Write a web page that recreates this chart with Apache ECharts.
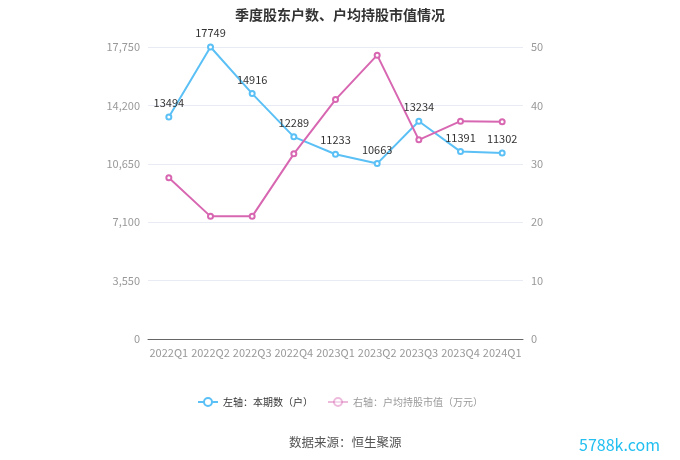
<!DOCTYPE html>
<html><head><meta charset="utf-8">
<script src="https://cdn.jsdelivr.net/npm/echarts@6/dist/echarts.min.js"></script>
<style>html,body{margin:0;padding:0;background:#fff}#c{width:680px;height:460px}</style>
</head><body><div id="c"></div>
<script>
const categories = ['2022Q1','2022Q2','2022Q3','2022Q4','2023Q1','2023Q2','2023Q3','2023Q4','2024Q1'];
const holders = [13494,17749,14916,12289,11233,10663,13234,11391,11302];
const avgValue = [27.6,21.0,21.0,31.7,41.0,48.6,34.1,37.3,37.2];
const leftTicks = {min:0,max:17750,interval:3550};
const rightTicks = {min:0,max:50,interval:10};
const font = 'Microsoft YaHei, "Noto Sans CJK SC", sans-serif';
const chart = echarts.init(document.getElementById('c'));
chart.setOption({
  animation:false,
  title:{text:'季度股东户数、户均持股市值情况',left:'center',top:3,textStyle:{fontSize:14,fontWeight:'bold',color:'#333',fontFamily:font}},
  grid:{left:148,right:157,top:47,bottom:121},
  legend:{bottom:48,left:'center',itemWidth:20,itemHeight:10,itemGap:14,textStyle:{fontSize:10,fontFamily:font,color:'#333'},
    data:[{name:'左轴：本期数（户）'},{name:'右轴：户均持股市值（万元）',itemStyle:{opacity:0.45},lineStyle:{opacity:0.45},textStyle:{color:'#999'}}]},
  xAxis:{type:'category',data:categories,axisLine:{lineStyle:{color:'#666'}},axisTick:{lineStyle:{color:'#666'}},
    axisLabel:{color:'#999',fontSize:11,fontFamily:font,margin:8,interval:0}},
  yAxis:[
    {type:'value',min:leftTicks.min,max:leftTicks.max,interval:leftTicks.interval,axisLine:{show:false},axisTick:{show:false},
     axisLabel:{color:'#999',fontSize:11,fontFamily:font,formatter:v=>v.toLocaleString('en-US')},splitLine:{lineStyle:{color:'#e8eaf4'}}},
    {type:'value',min:rightTicks.min,max:rightTicks.max,interval:rightTicks.interval,axisLine:{show:false},axisTick:{show:false},
     axisLabel:{color:'#999',fontSize:11,fontFamily:font},splitLine:{show:false}}
  ],
  series:[
    {name:'左轴：本期数（户）',type:'line',data:holders,yAxisIndex:0,symbol:'emptyCircle',symbolSize:5,
     itemStyle:{color:'#5bc0f5'},lineStyle:{width:2,color:'#5bc0f5'},
     label:{show:true,position:'top',color:'#333',fontSize:11,fontFamily:font}},
    {name:'右轴：户均持股市值（万元）',type:'line',data:avgValue,yAxisIndex:1,symbol:'emptyCircle',symbolSize:5,
     itemStyle:{color:'#d867b2'},lineStyle:{width:2,color:'#d867b2'}}
  ],
  graphic:[
    {type:'text',left:289,top:436,style:{text:'数据来源：恒生聚源',fill:'#555',font:'12.5px '+font}},
    {type:'text',left:579,top:437,style:{text:'5788k.com',fill:'#22bff0',font:'16px '+font}}
  ]
});
</script></body></html>
